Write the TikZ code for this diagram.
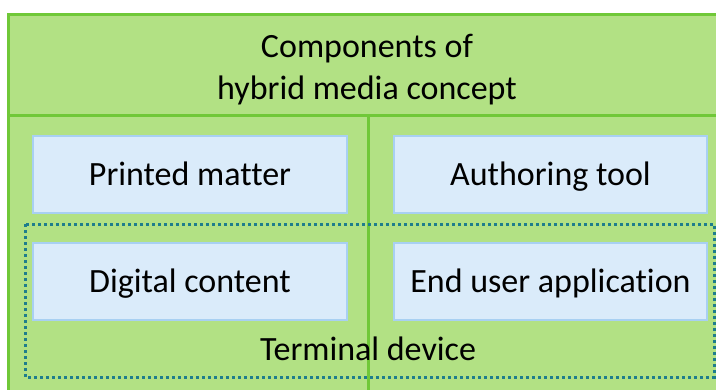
\documentclass[tikz,border=0pt]{standalone}
\usepackage{fontspec}
\setmainfont[Ligatures=NoCommon]{Carlito}
\usetikzlibrary{positioning}
\definecolor{leaf}{RGB}{178,225,132}
\definecolor{leafline}{RGB}{112,200,56}
\definecolor{skyfill}{RGB}{218,235,250}
\definecolor{skyline}{RGB}{168,208,242}
\definecolor{dotteal}{RGB}{30,125,140}
\tikzset{
    part/.style={draw=skyline, fill=skyfill, line width=2pt, minimum height=77pt, inner sep=0pt,
        text height=24pt, text depth=2pt, font=\fontsize{34}{40}\selectfont},
    frame/.style={draw=leafline, line width=3pt},
}
\begin{document}
\begin{tikzpicture}[x=1pt, y=-1pt]
    \useasboundingbox (0,0) rectangle (716,389);
    \fill [leaf] (8,14) rectangle (722,395);
    \draw [frame] (8,395) -- (8,14) -- (722,14);
    \draw [frame] (8,115) -- (722,115);
    \draw [frame] (368,115) -- (368,395);
    \node [align=center, font=\fontsize{34}{42}\selectfont] (title) at (367,70) {Components of\\hybrid media concept};
    \node [part, minimum width=314pt] (printed) at (190,174) {Printed matter};
    \node [part, minimum width=313pt] (author) at (550.5,174) {Authoring tool};
    \node [part, minimum width=314pt] (digital) at (190,281) {Digital content};
    \node [part, minimum width=313pt] (enduser) at (550.5,281) {End user application};
    \draw [dotteal, line width=3pt, dash pattern=on 3pt off 3pt] (25,224) rectangle (714,377);
    \node [anchor=base, font=\fontsize{34}{40}\selectfont] (terminal) at (368,360) {Terminal device};
\end{tikzpicture}
\end{document}
